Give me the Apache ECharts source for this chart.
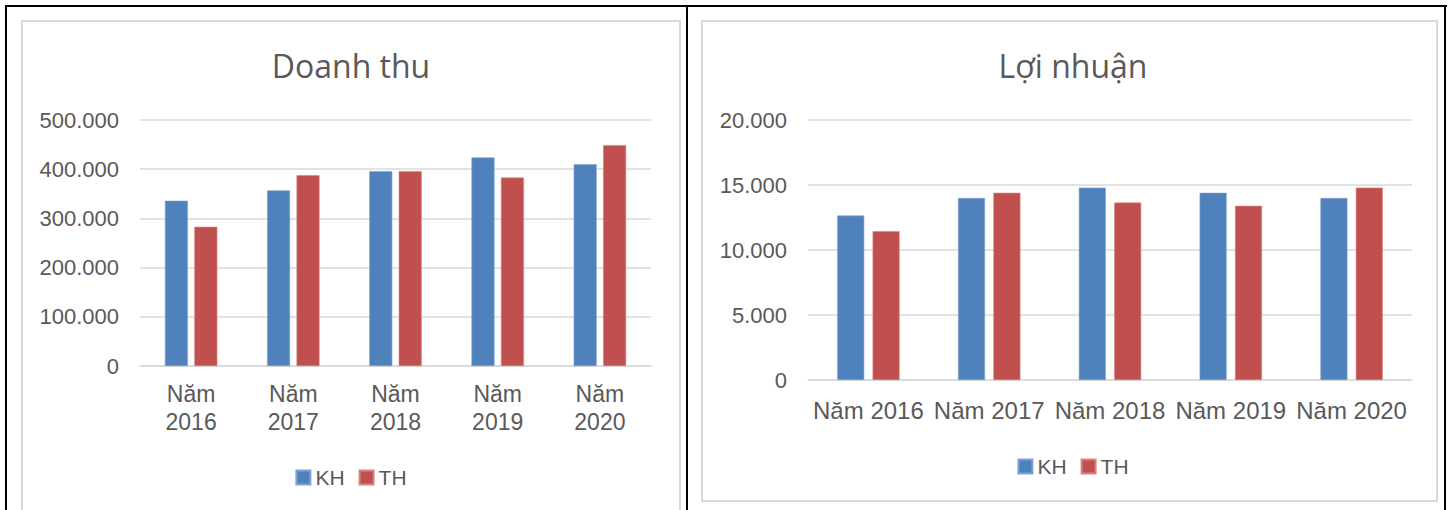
<!DOCTYPE html>
<html>
<head>
<meta charset="utf-8">
<script src="https://cdn.jsdelivr.net/npm/echarts@6/dist/echarts.min.js"></script>
<style>
  html, body { margin:0; padding:0; background:#fff; }
  body { width:1451px; height:510px; position:relative; overflow:hidden; }
  .ln { position:absolute; background:#000; }
  .gb { position:absolute; border:2px solid #d9d9d9; box-sizing:border-box; }
  #c1, #c2 { position:absolute; top:0; height:510px; }
</style>
</head>
<body>
<div class="ln" style="left:5px; top:5px; width:1442px; height:2px;"></div>
<div class="ln" style="left:5px; top:5px; width:2px; height:505px;"></div>
<div class="ln" style="left:686px; top:5px; width:2px; height:505px;"></div>
<div class="ln" style="left:1444px; top:5px; width:2px; height:505px;"></div>
<div class="gb" style="left:21px; top:20px; width:660px; height:500px;"></div>
<div class="gb" style="left:701px; top:20px; width:737px; height:482px;"></div>
<div id="c1" style="left:0px; width:702px;"></div>
<div id="c2" style="left:702px; width:742px;"></div>
<script>
const categories = ["Năm 2016", "Năm 2017", "Năm 2018", "Năm 2019", "Năm 2020"];
const seriesNames = ["KH", "TH"];
const revenueKH = [336000, 357000, 396000, 424000, 410000];
const revenueTH = [283000, 388000, 396000, 383000, 449000];
const profitKH = [12650, 14000, 14800, 14400, 14000];
const profitTH = [11450, 14400, 13650, 13400, 14800];
const revenueTicks = { max: 500000, interval: 100000 };
const profitTicks = { max: 20000, interval: 5000 };

const colors = ["#4F81BD", "#C0504D"];
const txt = "#595959";
const grid = "#d9d9d9";
function fmt(v) { return String(v).replace(/\B(?=(\d{3})+(?!\d))/g, "."); }

function makeOption(title, kh, th, ticks, g, xl, lgTop, barW, barGap, twoLine) {
  return {
    animation: false,
    color: colors,
    title: {
      text: title, left: "center", top: 44,
      textStyle: { fontFamily: "Open Sans", fontSize: 32, fontWeight: "normal", color: txt }
    },
    legend: {
      data: seriesNames, top: lgTop, left: "center", padding: 0,
      itemWidth: 14, itemHeight: 14, itemGap: 14, icon: "rect",
      textStyle: { fontFamily: "Liberation Sans", fontSize: 21, color: txt }
    },
    grid: g,
    xAxis: {
      type: "category", data: categories,
      axisLine: { lineStyle: { color: grid, width: 1.5 } },
      axisTick: { show: false },
      axisLabel: {
        interval: 0, margin: xl.margin, fontFamily: "Liberation Sans", fontSize: xl.size,
        color: txt, lineHeight: xl.lh,
        formatter: function (v) { return twoLine ? v.replace(" ", "\n") : v; }
      }
    },
    yAxis: {
      type: "value", min: 0, max: ticks.max, interval: ticks.interval,
      axisLine: { show: false }, axisTick: { show: false },
      splitLine: { lineStyle: { color: grid, width: 1.5 } },
      axisLabel: { margin: 21, fontFamily: "Liberation Sans", fontSize: 22, color: txt, formatter: fmt }
    },
    series: [
      { name: seriesNames[0], type: "bar", data: kh, barWidth: barW, barGap: barGap,
        itemStyle: { color: colors[0], borderColor: "#7fa3d0", borderWidth: 0.6 } },
      { name: seriesNames[1], type: "bar", data: th, barWidth: barW, barGap: barGap,
        itemStyle: { color: colors[1], borderColor: "#d98280", borderWidth: 0.6 } }
    ]
  };
}

const c1 = echarts.init(document.getElementById("c1"), null, { renderer: "svg" });
c1.setOption(makeOption("Doanh thu", revenueKH, revenueTH, revenueTicks,
  { left: 140, right: 51, top: 120, bottom: 144 },
  { margin: 14, size: 23, lh: 28 }, 467, 23, "28%", true));

const c2 = echarts.init(document.getElementById("c2"), null, { renderer: "svg" });
c2.setOption(makeOption("Lợi nhuận", profitKH, profitTH, profitTicks,
  { left: 106, right: 32, top: 120, bottom: 130 },
  { margin: 16, size: 24, lh: 28 }, 456, 27, "31%", false));
</script>
</body>
</html>
